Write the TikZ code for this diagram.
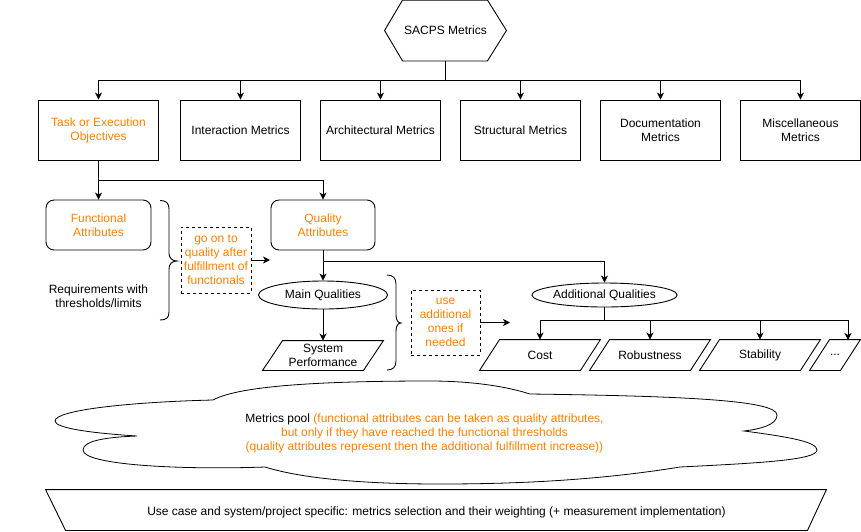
\documentclass[tikz,border=0pt]{standalone}
\usepackage{fontspec}
\setmainfont{Liberation Sans}
\usetikzlibrary{arrows.meta,calc,shapes.geometric}
\definecolor{dorange}{HTML}{FF8000}
\newcommand\drawpara[1]{\draw ($(#1.south west)+(-10,0)$) -- ($(#1.north west)+(10,0)$) -- ($(#1.north east)+(10,0)$) -- ($(#1.south east)+(-10,0)$) -- cycle;}
\begin{document}
\begin{tikzpicture}[x=1pt,y=-1pt,line width=0.9pt,
  font=\fontsize{12}{14}\selectfont,
  every node/.style={align=center,inner sep=0pt,text=black},
  box/.style={draw,rectangle,minimum width=120pt,minimum height=60pt},
  rbox/.style={draw,rectangle,rounded corners=8pt,minimum width=105pt,minimum height=50pt},
  dbox/.style={draw,rectangle,dash pattern=on 3pt off 3pt,text=dorange},
  ell/.style={draw,ellipse,minimum width=129pt},
  pbox/.style={rectangle,minimum width=100pt,minimum height=29pt},
  arr/.style={-{Stealth[length=7pt,width=7pt,inset=2pt]}},
  orng/.style={text=dorange}]
\useasboundingbox (0,0) rectangle (861,531);

% hexagon
\node[minimum width=121pt,minimum height=60pt] (hex) at (445.5,30.5) {SACPS Metrics};
\draw (hex.west) -- ($(hex.north west)+(18,0)$) -- ($(hex.north east)+(-19,0)$) -- (hex.east) -- ($(hex.south east)+(-19,0)$) -- ($(hex.south west)+(18,0)$) -- cycle;

% top row
\node[box,orng] (b1) at (98.5,130) {Task or Execution\\Objectives};
\node[box] (b2) at (240.5,130) {Interaction Metrics};
\node[box] (b3) at (380.5,130) {Architectural Metrics};
\node[box] (b4) at (520.5,130) {Structural Metrics};
\node[box] (b5) at (660.5,130) {Documentation\\Metrics};
\node[box] (b6) at (800.5,130) {Miscellaneous\\Metrics};
\coordinate (hb) at (445.5,80);
\foreach \b in {b1,b2,b3,b4,b5,b6} \draw[arr] (hex.south) -- (hb) -| (\b.north);

% attributes
\node[rbox,orng] (func) at (98.5,225) {Functional\\Attributes};
\node[rbox,orng,minimum width=104pt] (qual) at (323,225) {Quality\\Attributes};
\coordinate (tb) at (98.5,180);
\draw[arr] (b1.south) -- (tb) -| (func.north);
\draw[arr] (b1.south) -- (tb) -| (qual.north);

\node (req) at (98.5,296) {Requirements with\\thresholds/limits};

% brace 1
\draw (160,200.5) .. controls (166,200.5) and (169,203) .. (169,209) -- (169,253) .. controls (169,258) and (172,261) .. (177,261) .. controls (172,261) and (169,264) .. (169,269) -- (169,312) .. controls (169,318) and (166,320) .. (160,320);

\node[dbox,minimum width=70pt,minimum height=66pt] (d1) at (216,260) {go on to\\quality after\\fulfillment of\\functionals};
\coordinate (d1end) at (270,260);
\draw[arr] (d1.east) -- (d1end);

% qualities
\node[ell,minimum height=28pt] (mainq) at (323,295) {Main Qualities};
\node[ell,minimum height=24pt] (addq) at (604.5,295) {Additional Qualities};
\draw[arr] (qual.south) -- (mainq.north);
\coordinate (qb) at (323,261);
\draw[arr] (qual.south) -- (qb) -| (addq.north);

\node[pbox] (sysp) at (323,355.5) {System\\Performance};
\drawpara{sysp}
\draw[arr] (mainq.south) -- (sysp.north);

% brace 2
\draw (387,275) .. controls (393,275) and (396,278) .. (396,284) -- (396,315) .. controls (396,320) and (398,323) .. (401,323) .. controls (398,323) and (396,326) .. (396,331) -- (396,361) .. controls (396,367) and (393,370) .. (387,370);

\node[dbox,minimum width=69pt,minimum height=65pt] (d2) at (445.5,322.5) {use\\additional\\ones if\\needed};
\coordinate (d2end) at (510,322.5);
\draw[arr] (d2.east) -- (d2end);

% additional qualities
\node[pbox,minimum height=30pt] (cost) at (540,355) {Cost};
\node[pbox,minimum height=30pt] (rob) at (650,355) {Robustness};
\node[pbox,minimum height=30pt] (stab) at (760,355) {Stability};
\node[pbox,minimum height=30pt,minimum width=30pt] (dots) at (835,355) {...};
\drawpara{cost}
\drawpara{rob}
\drawpara{stab}
\drawpara{dots}
\coordinate (ab) at (604.5,320);
\coordinate (dt) at (848,340);
\foreach \q in {cost,rob,stab} \draw[arr] (addq.south) -- (ab) -| (\q.north);
\draw[arr] (addq.south) -- (ab) -| (dt);

% cloud
\draw[line width=0.8pt] (213,400) .. controls (240,385) and (330,381) .. (430,381)
  .. controls (470,381) and (505,386) .. (530,394)
  .. controls (680,396) and (777,400) .. (777,415)
  .. controls (777,425) and (760,429) .. (744,431)
  .. controls (790,437) and (817,442) .. (817,450)
  .. controls (817,460) and (760,463) .. (680,467)
  .. controls (600,480) and (520,484) .. (440,484)
  .. controls (360,484) and (300,478) .. (265,467)
  .. controls (180,470) and (83,465) .. (83,450)
  .. controls (83,440) and (110,437) .. (137,436)
  .. controls (90,433) and (55,428) .. (55,421)
  .. controls (55,410) and (130,402) .. (213,400) -- cycle;
\node (pool) at (424.5,433.5) {Metrics pool \textcolor{dorange}{(functional attributes can be taken as quality attributes,}\\\textcolor{dorange}{but only if they have reached the functional thresholds}\\\textcolor{dorange}{(quality attributes represent then the additional fulfillment increase))}};

% bottom trapezoid
\node[minimum width=741pt,minimum height=40pt] (use) at (436.5,512) {Use case and system/project specific: metrics selection and their weighting (+ measurement implementation)};
\draw ($(use.north west)+(-20,-2)$) -- ($(use.north east)+(19,-2)$) -- ($(use.south east)+(0,-2)$) -- ($(use.south west)+(0,-2)$) -- cycle;
\end{tikzpicture}
\end{document}
